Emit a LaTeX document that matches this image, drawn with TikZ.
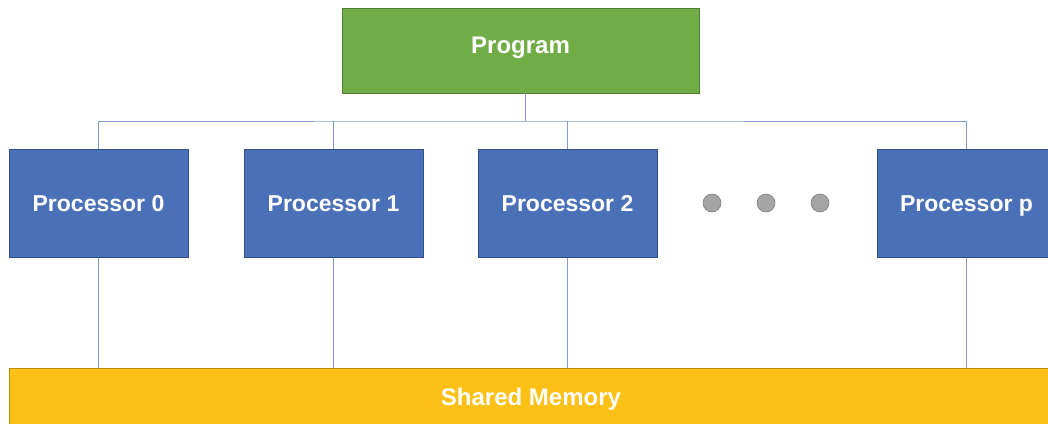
\documentclass[tikz,border=0pt]{standalone}
\usepackage{fontspec}
\setmainfont{Liberation Sans}
\definecolor{pgreen}{HTML}{70AD47}
\definecolor{pgreenb}{HTML}{507E32}
\definecolor{pblue}{HTML}{4A70B7}
\definecolor{pblueb}{HTML}{2F528F}
\definecolor{mgold}{HTML}{FCC016}
\definecolor{mgoldb}{HTML}{BC8C00}
\definecolor{linec}{HTML}{7F9BD0}
\definecolor{dotc}{HTML}{A5A5A5}
\definecolor{dotb}{HTML}{7F7F7F}
\begin{document}
\begin{tikzpicture}[x=1pt,y=-1pt,
  box/.style={draw, line width=1pt, minimum width=179pt, minimum height=108pt, inner sep=0pt, text=white, text height=16.5pt, text depth=0pt, font=\fontsize{23}{24}\selectfont\bfseries},
  proc/.style={box, fill=pblue, draw=pblueb},
  conn/.style={draw=linec, line width=0.9pt},
  dotn/.style={circle, fill=dotc, draw=dotb, line width=0.6pt, minimum size=18pt, inner sep=0pt}]
\useasboundingbox (0,0) rectangle (1048,423);
\clip (0,0) rectangle (1048,423);
\node[box, fill=pgreen, draw=pgreenb, minimum width=357pt, minimum height=85pt, text height=17.2pt, text depth=12pt, font=\fontsize{24}{25}\selectfont\bfseries] (prog) at (520.5,50.5) {Program};
\node[proc] (p0) at (98.5,203) {Processor 0};
\node[proc] (p1) at (333.5,203) {Processor 1};
\node[proc] (p2) at (567.5,203) {Processor 2};
\node[proc] (pp) at (966.5,203) {Processor p};
\node[dotn] (d1) at (712,203) {};
\node[dotn] (d2) at (766,203) {};
\node[dotn] (d3) at (820,203) {};
\node[box, fill=mgold, draw=mgoldb, minimum width=1060pt, minimum height=70pt, anchor=north west] (mem) at (9,368) {};
\node[text=white, inner sep=0pt, text height=17.2pt, text depth=0pt, font=\fontsize{24}{25}\selectfont\bfseries] (memt) at (531,396.5) {Shared Memory};
\coordinate (bus) at (525,121);
\draw[conn] (525,93) -- (bus);
\draw[conn] (p0.north) |- (bus) -| (pp.north);
\draw[conn] (p1.north) -- (p1.north |- bus);
\draw[conn] (p2.north) -- (p2.north |- bus);
\draw[conn] (p0.south) -- (p0.south |- mem.north);
\draw[conn] (p1.south) -- (p1.south |- mem.north);
\draw[conn] (p2.south) -- (p2.south |- mem.north);
\draw[conn] (pp.south) -- (pp.south |- mem.north);
\end{tikzpicture}
\end{document}
